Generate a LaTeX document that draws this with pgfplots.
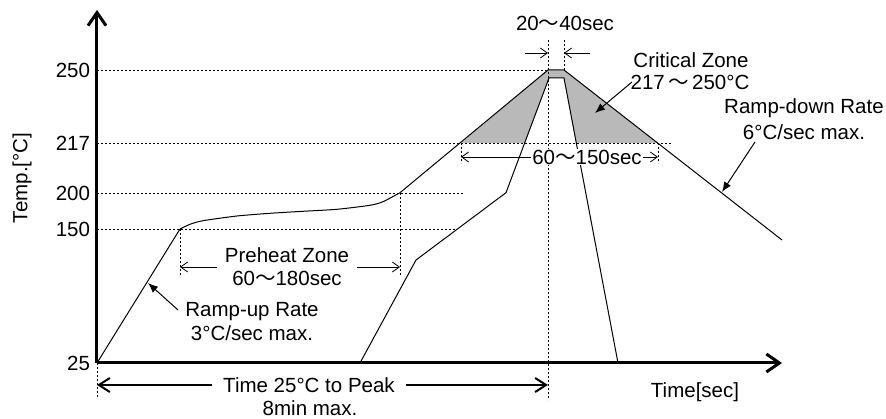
\documentclass[border=0pt]{standalone}
\usepackage{fontspec}
\setmainfont{Liberation Sans}
\newfontfamily\cjk{Noto Sans CJK JP}
\usepackage{pgfplots}
\pgfplotsset{compat=1.18}
\usetikzlibrary{arrows.meta}
\newcommand{\wave}{{\cjk 〜}}
\begin{document}
\fontsize{20.5}{24}\selectfont
\begin{tikzpicture}[
  dotline/.style={line width=0.9pt, dash pattern=on 2pt off 2pt},
  dimarrow/.style={line width=0.8pt, -{Straight Barb[length=7pt,width=10pt]}},
  bigarrow/.style={line width=2pt, -{Straight Barb[length=11pt,width=14pt]}},
  fillarrow/.style={line width=1pt, -{Latex[length=10pt,width=8pt]}},
]
\begin{axis}[
  x=1pt, y=1pt,
  xmin=97, xmax=782, ymin=0, ymax=353,
  axis lines=left,
  x axis line style={line width=3pt, -{Straight Barb[length=13pt,width=18pt]}},
  y axis line style={line width=3pt, -{Straight Barb[length=13pt,width=18pt]}},
  xtick=\empty,
  ytick={0,134,170,220,293},
  yticklabels={25,150,200,217,250},
  major tick length=0pt,
  /pgf/number format/assume math mode=true,
  clip=false,
  ylabel={Temp.[°C]},
  ylabel style={at={(axis description cs:-0.1095,0.524)},anchor=center},
  xlabel={Time[sec]},
  xlabel style={at={(axis description cs:0.873,-0.082)},anchor=center},
]
% critical zone shading
\addplot[draw=none, fill={rgb,255:red,185;green,185;blue,185}] coordinates {
  (461,220) (548,293) (564,293) (658,220) (576,220) (564,285) (549,285) (525,220)};

% dotted reference lines
\draw[dotline] (axis cs:97,293) -- (axis cs:548,293);
\draw[dotline] (axis cs:97,220) -- (axis cs:672,220);
\draw[dotline] (axis cs:97,170) -- (axis cs:463,170);
\draw[dotline] (axis cs:97,134) -- (axis cs:457,134);
\draw[dotline] (axis cs:548,323) -- (axis cs:548,-37);
\draw[dotline] (axis cs:564,323) -- (axis cs:564,293);
\draw[dotline] (axis cs:180,134) -- (axis cs:180,88);
\draw[dotline] (axis cs:400,170) -- (axis cs:400,88);
\draw[dotline] (axis cs:461,220) -- (axis cs:461,200);
\draw[dotline] (axis cs:658,220) -- (axis cs:658,200);
\draw[dotline] (axis cs:97,0) -- (axis cs:97,-35);

% outer profile
\addplot[black, line width=1pt] coordinates {(97,0) (180,134)};
\addplot[black, line width=1pt, smooth, tension=0.4] coordinates {
  (180,134) (190,138.7) (203,142.3) (237,147) (270,149.7) (303,151.7)
  (337,153.7) (370,157.7) (383,161.3) (400,170.3)};
\addplot[black, line width=1pt] coordinates {(400,170.3) (548,293) (564,293) (782,123)};
% inner profile
\addplot[black, line width=1pt] coordinates {(360,0) (416,103) (506,170.3) (549,285) (564,285) (618,0)};

% annotations
\node at (axis cs:565,340) {20\wave40sec};
\draw[dimarrow] (axis cs:525,310) -- (axis cs:548,310);
\draw[dimarrow] (axis cs:590,310) -- (axis cs:564,310);

\draw[dimarrow] (axis cs:540,206) -- (axis cs:461,206);
\draw[dimarrow] (axis cs:635,206) -- (axis cs:658,206);
\node[fill=white, inner sep=1pt] at (axis cs:587,206) {60\wave150sec};

\node at (axis cs:287,108) {Preheat Zone};
\node at (axis cs:287,85) {60\wave180sec};
\draw[dimarrow] (axis cs:217,96) -- (axis cs:180,96);
\draw[dimarrow] (axis cs:357,96) -- (axis cs:400,96);

\node at (axis cs:252,51) {Ramp-up Rate};
\node at (axis cs:252,30) {3°C/sec max.};
\draw[fillarrow] (axis cs:178,53) -- (axis cs:148,80);

\node at (axis cs:309,-22) {Time 25°C to Peak};
\node at (axis cs:310,-45) {8min max.};
\draw[bigarrow] (axis cs:212,-22) -- (axis cs:97,-22);
\draw[bigarrow] (axis cs:406,-22) -- (axis cs:548,-22);

\node at (axis cs:691,303) {Critical Zone};
\node at (axis cs:690,281) {217\,\wave\,250°C};
\draw[fillarrow] (axis cs:632,281) -- (axis cs:595,250);

\node at (axis cs:804,255) {Ramp-down Rate};
\node at (axis cs:804,231) {6°C/sec max.};
\draw[fillarrow] (axis cs:755,221) -- (axis cs:722,171);

\coordinate (bl) at (axis cs:0,-56);
\coordinate (tr) at (axis cs:886,363);
\end{axis}
\pgfresetboundingbox
\path[use as bounding box] (bl) rectangle (tr);
\end{tikzpicture}
\end{document}
